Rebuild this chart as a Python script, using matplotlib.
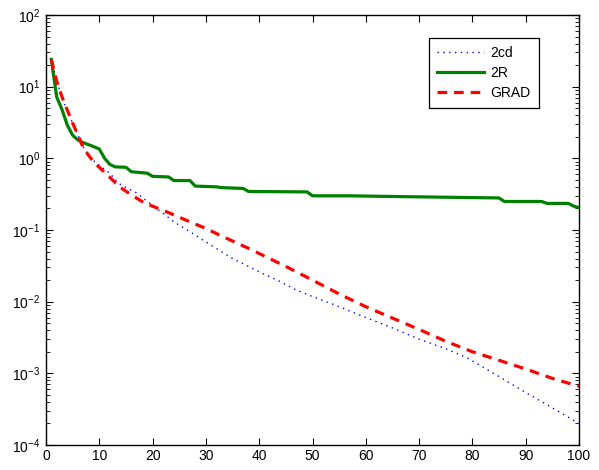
import matplotlib
matplotlib.use("Agg")
import matplotlib.pyplot as plt
from matplotlib.ticker import LogLocator, NullFormatter, FixedLocator

plt.rcParams['font.family'] = ['Liberation Sans', 'DejaVu Sans']
plt.rcParams['mathtext.fontset'] = 'custom'
plt.rcParams['mathtext.rm'] = 'Liberation Sans'
plt.rcParams['mathtext.it'] = 'Liberation Sans'

# 2cd (blue dotted)
x_2cd = [1, 2, 3, 4, 5, 6, 7, 8, 9, 10, 11, 12, 13, 14, 15, 17, 19, 20, 22, 24, 26, 28,
         30, 32, 35, 38, 41, 44, 47, 50, 54, 57, 60, 65, 70, 75, 79, 85, 90, 95, 100]
y_2cd = [24, 12, 7.0, 4.6, 3.1, 2.1, 1.45, 1.1, 0.92, 0.80, 0.70, 0.62, 0.50, 0.43, 0.39,
         0.33, 0.25, 0.22, 0.17, 0.13, 0.105, 0.085, 0.068, 0.055, 0.040, 0.031, 0.024,
         0.019, 0.0145, 0.0118, 0.0091, 0.0074, 0.0060, 0.0043, 0.0030, 0.0022, 0.00165,
         0.0009, 0.00054, 0.00033, 0.0002]

# 2R (green solid)
x_2R = [1, 2, 3, 4, 5, 6, 7, 8, 9, 10, 11, 12, 13, 15, 16, 19, 20, 23, 24, 27, 28, 32,
        33, 37, 38, 49, 50, 57, 63, 70, 85, 86, 93, 94, 98, 99, 100]
y_2R = [24, 7.2, 4.8, 2.9, 2.1, 1.8, 1.65, 1.55, 1.45, 1.35, 1.0, 0.82, 0.76, 0.75, 0.65,
        0.62, 0.56, 0.55, 0.49, 0.49, 0.41, 0.40, 0.39, 0.38, 0.345, 0.34, 0.30, 0.30,
        0.295, 0.29, 0.28, 0.25, 0.25, 0.235, 0.235, 0.215, 0.205]

# GRAD (red dashed)
x_grad = [1, 2, 3, 4, 5, 6, 7, 8, 9, 10, 12, 14, 16, 18, 20, 23, 26, 30, 33, 36, 40, 45,
          50, 55, 60, 65, 70, 75, 80, 85, 90, 95, 100]
y_grad = [24, 12, 7.2, 4.7, 3.1, 2.1, 1.4, 1.1, 0.88, 0.75, 0.54, 0.39, 0.31, 0.25, 0.215,
          0.175, 0.14, 0.105, 0.082, 0.065, 0.047, 0.031, 0.020, 0.0128, 0.0085, 0.0059,
          0.0041, 0.0028, 0.0020, 0.00152, 0.00115, 0.00085, 0.00066]

x_ticks = [0, 10, 20, 30, 40, 50, 60, 70, 80, 90, 100]
y_ticks = [1e-4, 1e-3, 1e-2, 1e-1, 1e0, 1e1, 1e2]

fig = plt.figure(figsize=(5.99, 4.70), dpi=100)
ax = fig.add_axes([46/599, 1-445/470, (579-46)/599, (445-15)/470])

ax.plot(x_2cd, y_2cd, color='#0000ff', lw=1.0, linestyle=(0, (1, 3.2)), label='2cd')
ax.plot(x_2R, y_2R, color='#008000', lw=2.3, linestyle='-', label='2R')
ax.plot(x_grad, y_grad, color='#ff0000', lw=2.3, linestyle=(0, (3, 2.2)), label='GRAD')

ax.set_yscale('log')
ax.set_ylim(1e-4, 1e2)
ax.set_xlim(0, 100)
ax.xaxis.set_major_locator(FixedLocator(x_ticks))
ax.yaxis.set_major_locator(FixedLocator(y_ticks))
ax.yaxis.set_minor_locator(LogLocator(base=10, subs=range(2, 10), numticks=20))
ax.yaxis.set_minor_formatter(NullFormatter())
ax.tick_params(which='both', direction='in', top=True, right=True, labelsize=10, colors='black')
ax.tick_params(which='major', length=5, width=0.8)
ax.tick_params(which='minor', length=3, width=0.6)
ax.tick_params(axis='x', pad=3)
ax.tick_params(axis='y', pad=4)
for s in ax.spines.values():
    s.set_linewidth(1.0)

leg = ax.legend(loc='upper right', fontsize=10,
                handlelength=3.4, fancybox=False, framealpha=1, edgecolor='black',
                borderpad=0.6, labelspacing=0.42, handletextpad=0.45, borderaxespad=0,
                bbox_to_anchor=(539/599, 1-38/470), bbox_transform=fig.transFigure)
leg.get_frame().set_linewidth(0.9)

fig.savefig('out.png', dpi=100)
